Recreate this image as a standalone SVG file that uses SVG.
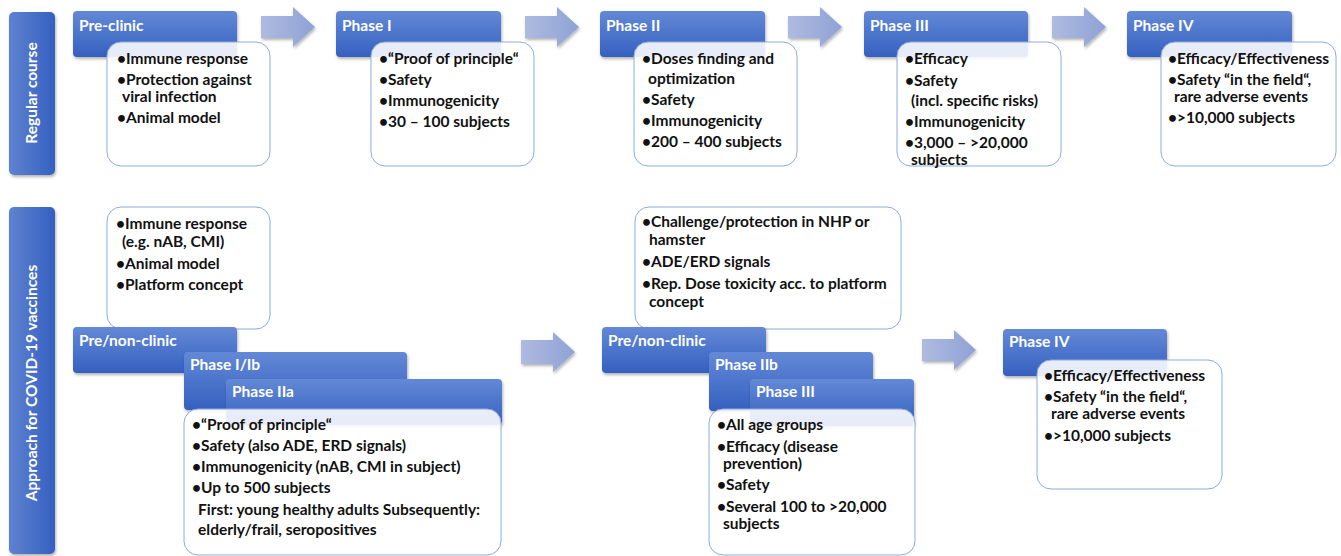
<svg xmlns="http://www.w3.org/2000/svg" width="1341" height="556" viewBox="0 0 1341 556">
<defs>
<linearGradient id="hdr" x1="0" y1="0" x2="0" y2="1">
<stop offset="0" stop-color="#6389d6"/>
<stop offset="1" stop-color="#3560c0"/>
</linearGradient>
<linearGradient id="side" x1="0" y1="0" x2="1" y2="0">
<stop offset="0" stop-color="#5f82d0"/>
<stop offset="1" stop-color="#3560c1"/>
</linearGradient>
<linearGradient id="arr" x1="0" y1="0" x2="1" y2="0">
<stop offset="0" stop-color="#aebbe1"/>
<stop offset="1" stop-color="#8fa2d5"/>
</linearGradient>
<filter id="sh" x="-20%" y="-20%" width="140%" height="150%">
<feDropShadow dx="1" dy="2" stdDeviation="1.5" flood-color="#000" flood-opacity="0.3"/>
</filter>
</defs>
<style>
.hdr{fill:url(#hdr);filter:url(#sh)}
.side{fill:url(#side);filter:url(#sh)}
.box{fill:#fff;fill-opacity:0.88;stroke:#8eaadc;stroke-width:1}
.arrow{fill:url(#arr);filter:url(#sh)}
.ht{font-family:"Lato","Liberation Sans",sans-serif;font-weight:bold;font-size:15.5px;fill:#fff}
.bt{font-family:"Lato","Liberation Sans",sans-serif;font-weight:bold;font-size:15.5px;fill:#111}
</style>

<g id="side-regular">
<rect class="side" x="9" y="12" width="46" height="163" rx="5"/>
<text class="ht" transform="translate(37,93) rotate(-90)" text-anchor="middle">Regular course</text>
</g>
<g id="side-covid">
<rect class="side" x="9" y="207" width="46" height="347" rx="5"/>
<text class="ht" transform="translate(37,383) rotate(-90)" text-anchor="middle">Approach for COVID-19 vaccinces</text>
</g>

<g id="connectors">
<path class="arrow" d="M261,16 H293 V7 L315,27 L293,47 V38 H261 Z"/>
<path class="arrow" d="M525,16 H557 V7 L579,27 L557,47 V38 H525 Z"/>
<path class="arrow" d="M788,16 H820 V7 L842,27 L820,47 V38 H788 Z"/>
<path class="arrow" d="M1052,16 H1084 V7 L1106,27 L1084,47 V38 H1052 Z"/>
<path class="arrow" d="M521,340 H553 V332 L575,352 L553,372 V364 H521 Z"/>
<path class="arrow" d="M922,339 H954 V330 L976,350 L954,370 V361 H922 Z"/>
</g>

<g id="pre-clinic">
<rect class="hdr" x="73" y="11" width="164" height="46" rx="4"/>
<text class="ht" x="79" y="31">Pre-clinic</text>
<rect class="box" x="107" y="42" width="163" height="124" rx="14"/>
<text class="bt" x="117" y="64">•Immune response</text>
<text class="bt" x="117" y="85">•Protection against</text>
<text class="bt" x="122" y="102">viral infection</text>
<text class="bt" x="117" y="123">•Animal model</text>
</g>

<g id="phase-1">
<rect class="hdr" x="336" y="11" width="165" height="46" rx="4"/>
<text class="ht" x="342" y="31">Phase I</text>
<rect class="box" x="371" y="42" width="163" height="124" rx="14"/>
<text class="bt" x="379" y="64">•“Proof of principle“</text>
<text class="bt" x="379" y="85">•Safety</text>
<text class="bt" x="379" y="106">•Immunogenicity</text>
<text class="bt" x="379" y="127">•30 – 100 subjects</text>
</g>

<g id="phase-2">
<rect class="hdr" x="600" y="11" width="165" height="46" rx="4"/>
<text class="ht" x="606" y="31">Phase II</text>
<rect class="box" x="634" y="42" width="163" height="124" rx="14"/>
<text class="bt" x="642" y="64">•Doses finding and</text>
<text class="bt" x="648" y="84">optimization</text>
<text class="bt" x="642" y="105">•Safety</text>
<text class="bt" x="642" y="126">•Immunogenicity</text>
<text class="bt" x="642" y="147">•200 – 400 subjects</text>
</g>

<g id="phase-3">
<rect class="hdr" x="864" y="11" width="164" height="46" rx="4"/>
<text class="ht" x="870" y="31">Phase III</text>
<rect class="box" x="897" y="42" width="164" height="124" rx="14"/>
<text class="bt" x="905" y="64">•Efficacy</text>
<text class="bt" x="905" y="86">•Safety</text>
<text class="bt" x="911" y="106">(incl. specific risks)</text>
<text class="bt" x="905" y="127">•Immunogenicity</text>
<text class="bt" x="905" y="148">•3,000 – &gt;20,000</text>
<text class="bt" x="911" y="165">subjects</text>
</g>

<g id="phase-4">
<rect class="hdr" x="1127" y="11" width="165" height="46" rx="4"/>
<text class="ht" x="1133" y="31">Phase IV</text>
<rect class="box" x="1161" y="42" width="175" height="124" rx="14"/>
<text class="bt" x="1168" y="64">•Efficacy/Effectiveness</text>
<text class="bt" x="1168" y="85">•Safety “in the field“,</text>
<text class="bt" x="1174" y="102">rare adverse events</text>
<text class="bt" x="1168" y="123">•&gt;10,000 subjects</text>
</g>

<g id="covid-preclinic">
<rect class="box" x="107" y="207" width="163" height="122" rx="14"/>
<text class="bt" x="116" y="229">•Immune response</text>
<text class="bt" x="122" y="247">(e.g. nAB, CMI)</text>
<text class="bt" x="116" y="269">•Animal model</text>
<text class="bt" x="116" y="290">•Platform concept</text>
<rect class="hdr" x="73" y="327" width="164" height="46" rx="4"/>
<text class="ht" x="79" y="346">Pre/non-clinic</text>
</g>

<g id="covid-phase-1-2a">
<rect class="hdr" x="184" y="352" width="223" height="58" rx="4"/>
<text class="ht" x="190" y="370">Phase I/Ib</text>
<rect class="hdr" x="226" y="379" width="276" height="46" rx="4"/>
<text class="ht" x="232" y="397">Phase IIa</text>
<rect class="box" x="184" y="409" width="317" height="146" rx="14"/>
<text class="bt" x="192" y="430">•“Proof of principle“</text>
<text class="bt" x="192" y="451">•Safety (also ADE, ERD signals)</text>
<text class="bt" x="192" y="472">•Immunogenicity (nAB, CMI in subject)</text>
<text class="bt" x="192" y="493">•Up to 500 subjects</text>
<text class="bt" x="198" y="515">First: young healthy adults Subsequently:</text>
<text class="bt" x="198" y="535">elderly/frail, seropositives</text>
</g>

<g id="covid-preclinic-2">
<rect class="box" x="635" y="207" width="266" height="122" rx="14"/>
<text class="bt" x="642" y="227">•Challenge/protection in NHP or</text>
<text class="bt" x="649" y="245">hamster</text>
<text class="bt" x="642" y="267">•ADE/ERD signals</text>
<text class="bt" x="642" y="289">•Rep. Dose toxicity acc. to platform</text>
<text class="bt" x="649" y="307">concept</text>
<rect class="hdr" x="602" y="327" width="164" height="46" rx="4"/>
<text class="ht" x="608" y="346">Pre/non-clinic</text>
</g>

<g id="covid-phase-2b-3">
<rect class="hdr" x="709" y="352" width="164" height="59" rx="4"/>
<text class="ht" x="715" y="370">Phase IIb</text>
<rect class="hdr" x="750" y="379" width="164" height="47" rx="4"/>
<text class="ht" x="756" y="397">Phase III</text>
<rect class="box" x="709" y="409" width="206" height="146" rx="14"/>
<text class="bt" x="717" y="430">•All age groups</text>
<text class="bt" x="717" y="452">•Efficacy (disease</text>
<text class="bt" x="723" y="469">prevention)</text>
<text class="bt" x="717" y="490">•Safety</text>
<text class="bt" x="717" y="512">•Several 100 to &gt;20,000</text>
<text class="bt" x="723" y="529">subjects</text>
</g>

<g id="covid-phase-4">
<rect class="hdr" x="1003" y="329" width="164" height="47" rx="4"/>
<text class="ht" x="1009" y="347">Phase IV</text>
<rect class="box" x="1037" y="360" width="185" height="129" rx="14"/>
<text class="bt" x="1044" y="381">•Efficacy/Effectiveness</text>
<text class="bt" x="1044" y="402">•Safety “in the field“,</text>
<text class="bt" x="1051" y="419">rare adverse events</text>
<text class="bt" x="1044" y="441">•&gt;10,000 subjects</text>
</g>
</svg>
